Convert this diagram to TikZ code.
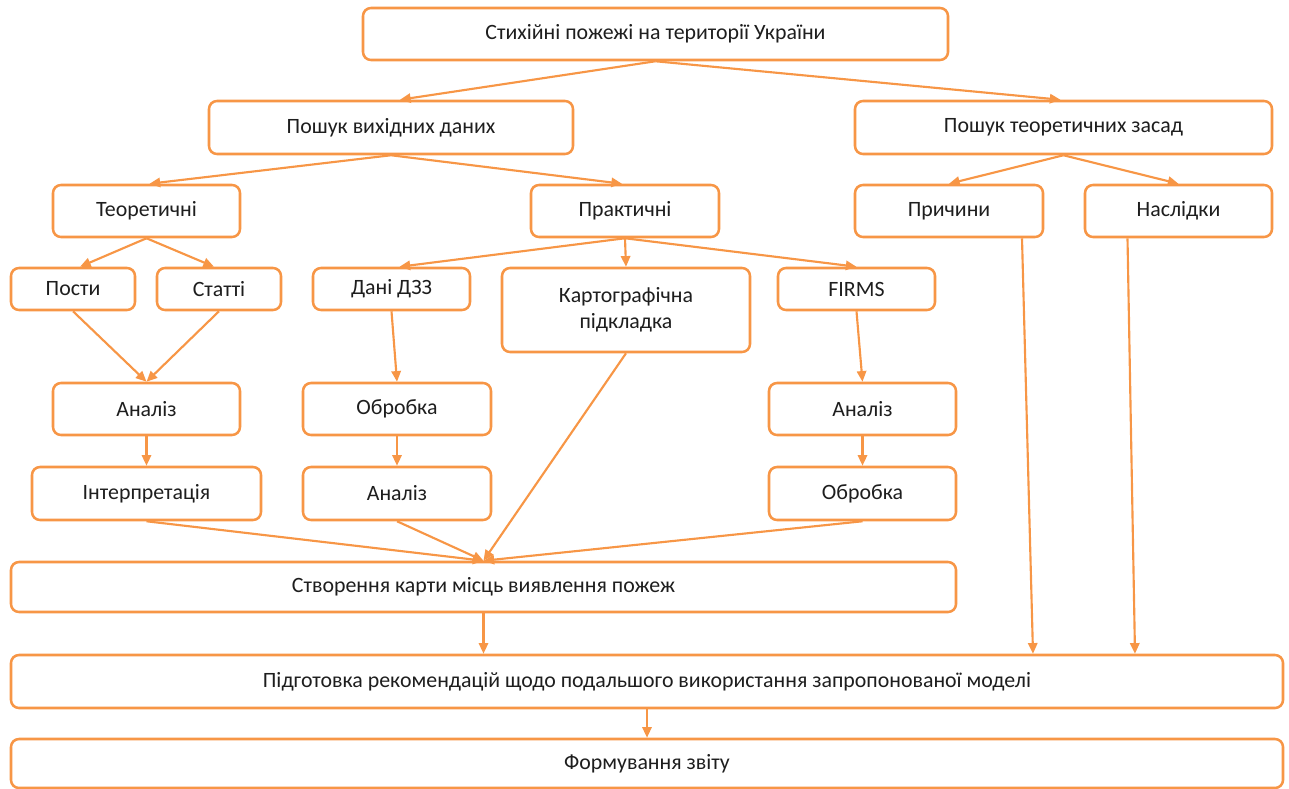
\documentclass[tikz,border=0pt]{standalone}
\usepackage{fontspec}
\setmainfont{Carlito}
\usetikzlibrary{arrows.meta,calc}

\definecolor{ornge}{RGB}{247,150,70}
\definecolor{txtgray}{RGB}{30,30,30}

\tikzset{every picture/.style={line width=0.75pt}}
\tikzset{
  blk/.style={draw=ornge, line width=1.9pt, rounded corners=6pt, fill=white,
    align=center, inner sep=0pt, text=txtgray, font=\fontsize{16.4}{19.5}\selectfont},
  sz/.style 2 args={minimum width=#1*0.75pt, minimum height=#2*0.75pt},
  lnk/.style={draw=ornge, line width=1.6pt, -{Triangle[length=8pt,width=7pt]}}
}

\begin{document}
\begin{tikzpicture}[x=0.75pt,y=0.75pt,yscale=-1,xscale=1]
\useasboundingbox (0,0) rectangle (1289,789);

% Text Node
\node [blk, sz={585}{52}] (fires) at (655.5,34) {Стихійні пожежі на території України};
% Text Node
\node [blk, sz={364}{53}] (srcdata) at (391,127.5) {Пошук вихідних даних};
% Text Node
\node [blk, sz={417}{53}] (srctheory) at (1063.5,127.5) {Пошук теоретичних засад};

% Text Node
\node [blk, sz={187}{52}] (theor) at (146.5,211) {Теоретичні};
% Text Node
\node [blk, sz={188}{52}] (pract) at (625,211) {Практичні};
% Text Node
\node [blk, sz={188}{52}] (causes) at (949,211) {Причини};
% Text Node
\node [blk, sz={187}{52}] (effects) at (1178.5,211) {Наслідки};

% Text Node
\node [blk, sz={124}{42}] (posts) at (73,289) {Пости};
% Text Node
\node [blk, sz={124}{42}] (papers) at (219,289) {Статті};
% Text Node
\node [blk, sz={157}{42}] (rsdata) at (391.5,289) {Дані ДЗЗ};
% Text Node
\node [blk, sz={248}{84}] (basemap) at (626,310) {Картографічна\\підкладка};
% Text Node
\node [blk, sz={157}{42}] (firms) at (856.5,289) {FIRMS};

% Text Node
\node [blk, sz={187}{52}] (anlA) at (146.5,409) {Аналіз};
% Text Node
\node [blk, sz={188}{52}] (procA) at (397,409) {Обробка};
% Text Node
\node [blk, sz={187}{52}] (anlC) at (862.5,409) {Аналіз};

% Text Node
\node [blk, sz={229}{53}] (interp) at (146.5,493.5) {Інтерпретація};
% Text Node
\node [blk, sz={188}{53}] (anlB) at (397,493.5) {Аналіз};
% Text Node
\node [blk, sz={187}{53}] (procC) at (862.5,493.5) {Обробка};

% Text Node
\node [blk, sz={945}{50}] (firemap) at (483.5,587) {Створення карти місць виявлення пожеж};
% Text Node
\node [blk, sz={1272}{53}] (recs) at (647,681.5) {Підготовка рекомендацій щодо подальшого використання запропонованої моделі};
% Text Node
\node [blk, sz={1272}{49}] (report) at (647,763.5) {Формування звіту};

%Straight Lines
\draw [lnk] (fires.south) -- ($(srcdata.north)+(9,0)$);
\draw [lnk] (fires.south) -- ($(srctheory.north)+(-3,0)$);
\draw [lnk] (srcdata.south) -- ($(theor.north)+(3,0)$);
\draw [lnk] (srcdata.south) -- ($(pract.north)+(-3,0)$);
\draw [lnk] (srctheory.south) -- (causes.north);
\draw [lnk] (srctheory.south) -- (effects.north);
\draw [lnk] (theor.south) -- ($(posts.north)+(7,0)$);
\draw [lnk] (theor.south) -- ($(papers.north)+(-5,0)$);
\draw [lnk] (pract.south) -- ($(rsdata.north)+(8,0)$);
\draw [lnk] (pract.south) -- (basemap.north);
\draw [lnk] (pract.south) -- (firms.north);
\draw [lnk] (posts.south) -- (anlA.north);
\draw [lnk] (papers.south) -- (anlA.north);
\draw [lnk] (rsdata.south) -- (procA.north);
\draw [lnk] (firms.south) -- (anlC.north);
\draw [lnk] (anlA) -- (interp);
\draw [lnk] (procA) -- (anlB);
\draw [lnk] (anlC) -- (procC);
\draw [lnk] (interp.south) -- (firemap.north);
\draw [lnk] (anlB.south) -- (firemap.north);
\draw [lnk] (basemap.south) -- (firemap.north);
\draw [lnk] (procC.south) -- (firemap.north);
\draw [lnk] (firemap.south) -- (firemap.south |- recs.north);
\draw [lnk] ($(causes.south)+(73,0)$) -- ($(recs.north)+(386,0)$);
\draw [lnk] ($(effects.south)+(-51,0)$) -- ($(recs.north)+(488,0)$);
\draw [lnk] (recs) -- (report);

\end{tikzpicture}
\end{document}
